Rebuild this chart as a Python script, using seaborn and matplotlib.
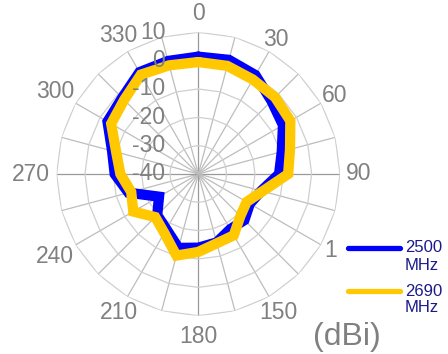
import numpy as np
import pandas as pd
import matplotlib
matplotlib.use("Agg")
import matplotlib.pyplot as plt
import matplotlib.transforms as mtransforms
from matplotlib.lines import Line2D
import seaborn as sns

sns.set_style("white")
plt.rcParams['font.family'] = ['Liberation Sans', 'DejaVu Sans']

angles_deg = [0, 15, 30, 45, 60, 75, 90, 105, 120, 135, 150, 165,
              180, 195, 210, 225, 240, 255, 270, 285, 300, 315, 330, 345]
gain_2500 = [1.4, 1.7, 0.3, -3.5, -5.5, -9.5, -11.5, -17, -19, -17, -17.5, -15,
             -14, -13, -17.5, -19.5, -24, -14.5, -10.5, -8.5, -3, -2, 1.5, 1.3]
gain_2690 = [-0.5, -0.5, -1.5, -1.7, -2.5, -6.5, -8.3, -16.5, -20.3, -19, -15, -14.7,
             -12.5, -10.2, -16, -18.5, -13.5, -15.5, -12.5, -10, -4.5, -3, 0.5, -0.3]
series_names = ["2500\nMHz", "2690\nMHz"]
series_colors = ["#0000FF", "#FFC800"]
label_angles = [0, 30, 60, 90, 120, 150, 180, 210, 240, 270, 300, 330]
angle_labels = ["0", "30", "60", "90", "1", "150", "180", "210", "240", "270", "300", "330"]
r_ticks = [10, 0, -10, -20, -30, -40]

rows = []
for name, vals in zip(series_names, [gain_2500, gain_2690]):
    closed_a = angles_deg + [angles_deg[0] + 360]
    closed_v = vals + [vals[0]]
    for i, (a, v) in enumerate(zip(closed_a, closed_v)):
        rows.append({"theta": np.deg2rad(a), "dbi": v, "freq": name, "order": i})
df = pd.DataFrame(rows)

fig = plt.figure(figsize=(4.48, 3.54), dpi=100)
ax = fig.add_axes([56.6 / 448, 38.3 / 354, 283.4 / 448, 283.4 / 354], projection="polar")
ax.set_theta_zero_location("N")
ax.set_theta_direction(-1)
ax.set_ylim(-40, 10)

# polygonal grid
ax.yaxis.grid(False)
ax.spines['polar'].set_visible(False)
ring_theta = np.deg2rad(np.arange(0, 361, 15))
for r in [-30, -20, -10, 0, 10]:
    ax.plot(ring_theta, [r] * len(ring_theta), color="#CFCFCF", lw=0.9, zorder=1)
ax.set_yticks([-30, -20, -10, 0, 10])
ax.set_yticklabels([])

ax.set_xticks(np.deg2rad(np.arange(0, 360, 15)))
ax.set_xticklabels([])
ax.xaxis.grid(True, color="#BDBDBD", lw=0.9)
for gl, a in zip(ax.xaxis.get_gridlines(), np.arange(0, 360, 15)):
    if a % 90 == 0:
        gl.set_color("#9A9A9A")

# angle labels, placed just outside the outer ring (Excel-like spacing)
label_gap = [19, 14, 16, 19, 11, 18, 21, 18, 24, 26, 24, 18]
for a, lab, g in zip(label_angles, angle_labels, label_gap):
    t = np.deg2rad(a)
    tr = mtransforms.offset_copy(ax.transData, fig=fig, x=g * np.sin(t), y=g * np.cos(t), units="dots")
    ax.text(t, 10, lab, transform=tr, ha="center", va="center",
            fontsize=16.5, color="#808080", clip_on=False)

sns.lineplot(data=df, x="theta", y="dbi", hue="freq", palette=series_colors,
             sort=False, estimator=None, units="freq", linewidth=7.4, ax=ax,
             legend=False, zorder=3)
for ln in ax.lines[-2:]:
    ln.set_solid_joinstyle("miter")
ax.set_xlabel("")
ax.set_ylabel("")

# radial labels
off = mtransforms.offset_copy(ax.transData, fig=fig, x=-33, y=0, units="dots")
for r in r_ticks:
    ax.text(0, r, str(r), transform=off, ha="right", va="center",
            fontsize=16.5, color="#808080", zorder=4)

# legend (drawn manually: handle beside the first text line)
leg_y = [248, 291]
for c, name, y in zip(series_colors, series_names, leg_y):
    fig.add_artist(Line2D([348 / 448, 400 / 448], [1 - y / 354, 1 - y / 354],
                          color=c, lw=3.8, solid_capstyle="round",
                          transform=fig.transFigure))
    first, second = name.split("\n")
    fig.text(405 / 448, 1 - y / 354, first, ha="left", va="center",
             fontsize=12, color="#1A1A8C")
    fig.text(405 / 448, 1 - (y + 17) / 354, second, ha="left", va="center",
             fontsize=12, color="#1A1A8C")

fig.text(346.7 / 448, 1 - 337 / 354, "(dBi)", ha="center", va="center",
         fontsize=23, color="#808080")

fig.savefig("out.png", dpi=100)
